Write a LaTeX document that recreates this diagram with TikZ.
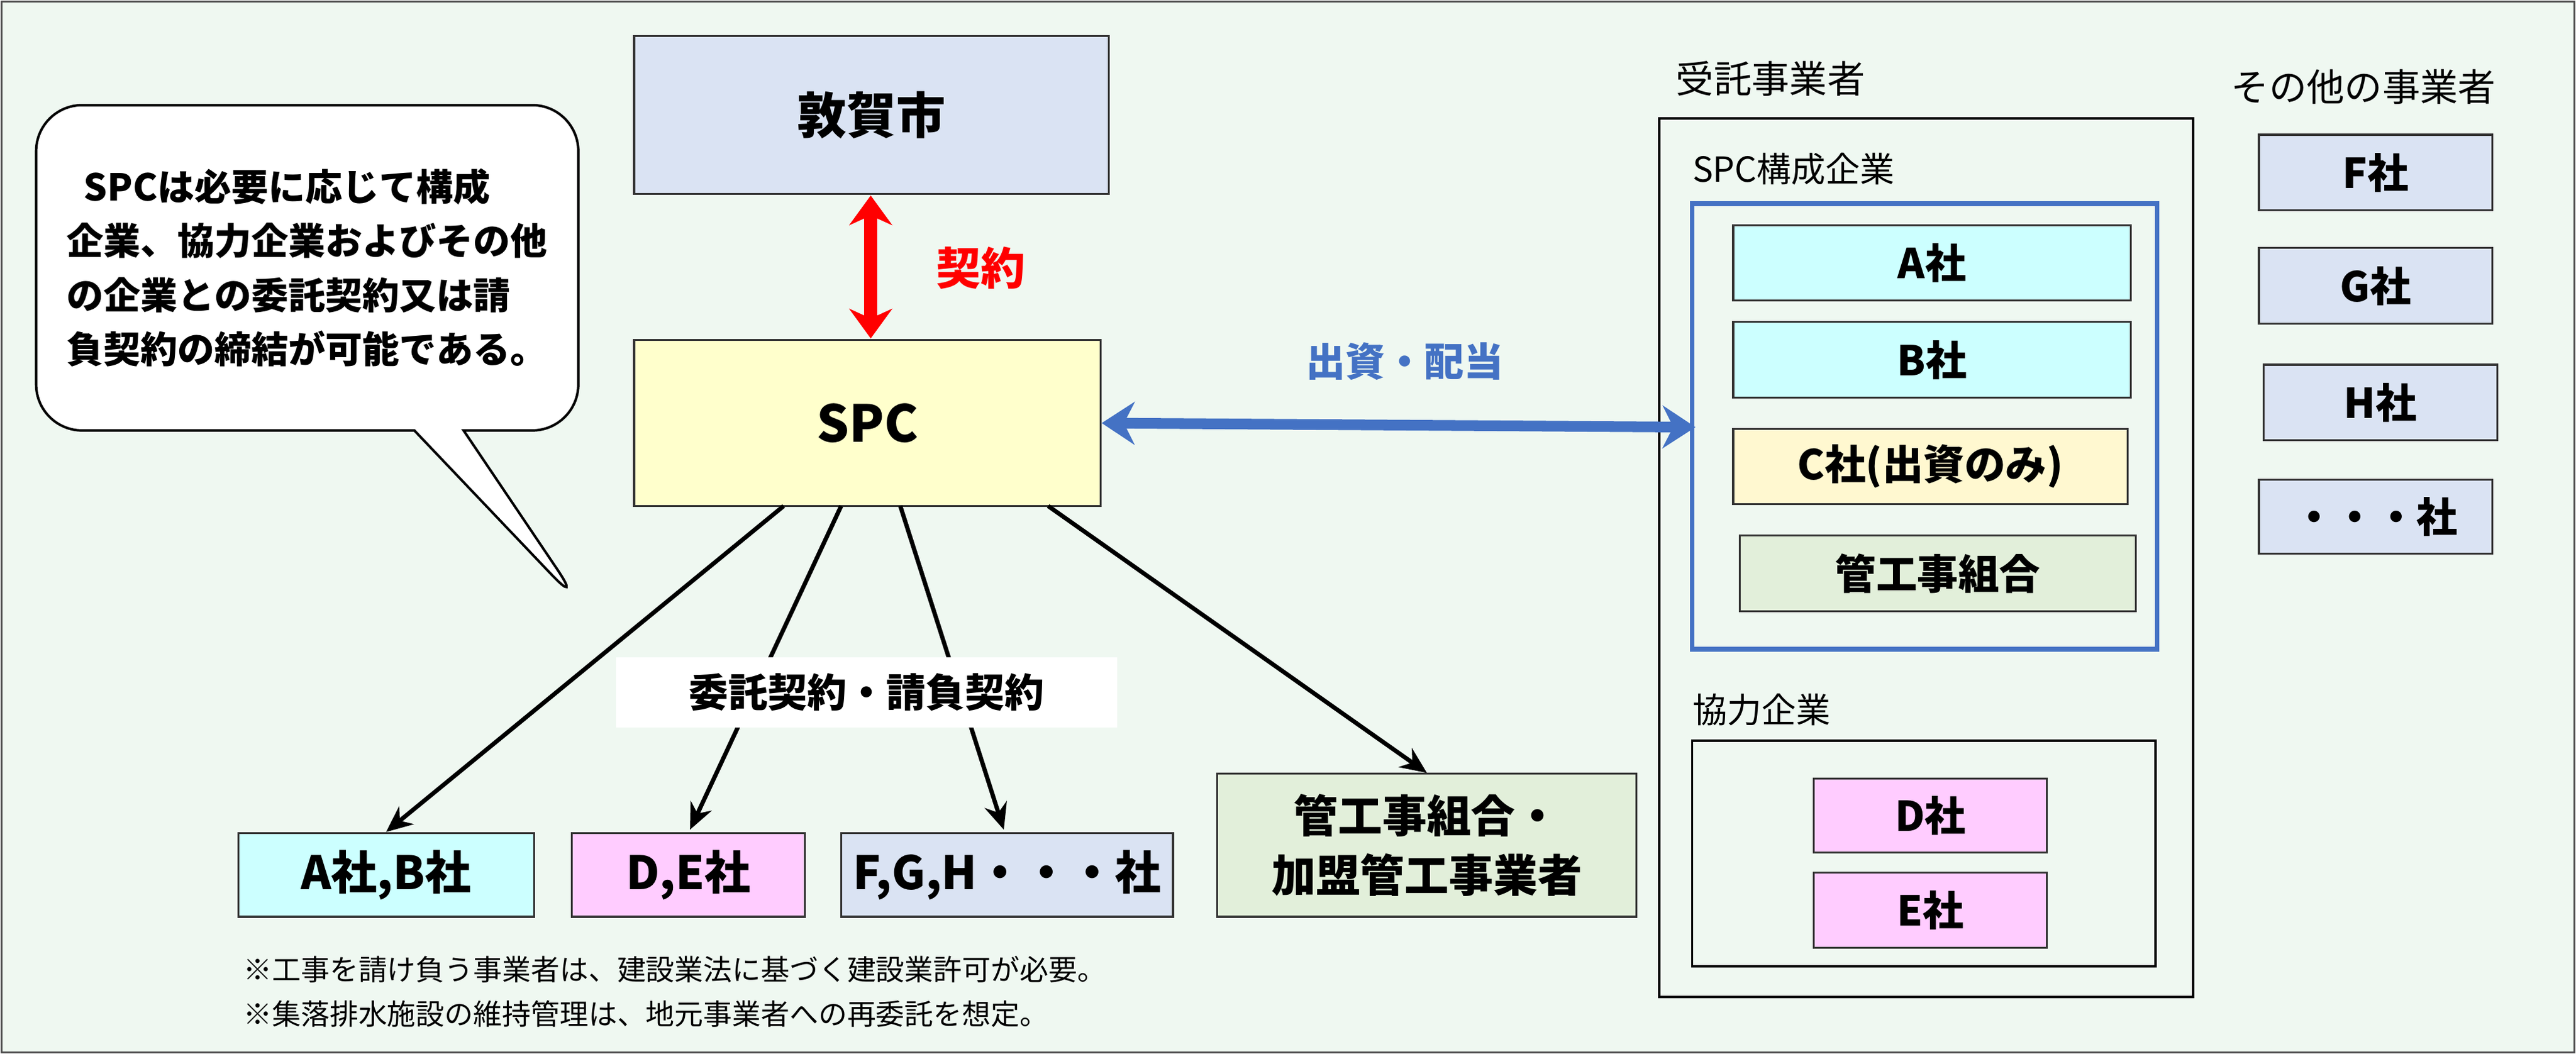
\documentclass[tikz,border=0pt]{standalone}
\usepackage{fontspec}
\setmainfont{Noto Sans CJK JP}
\newcommand\jpb{\bfseries}
\usetikzlibrary{arrows.meta,shapes.callouts}
\definecolor{bg}{HTML}{EFF8F1}
\definecolor{lav}{HTML}{DAE3F3}
\definecolor{ylw}{HTML}{FFFFCC}
\definecolor{cyn}{HTML}{CCFFFF}
\definecolor{grn}{HTML}{E2EFDA}
\definecolor{pnk}{HTML}{FFCCFF}
\definecolor{cyl}{HTML}{FFF8D0}
\definecolor{blu}{HTML}{4472C4}
\tikzset{
 bx/.style={draw=black!80,line width=1.2pt,align=center,font=\jpb\fontsize{28}{32}\selectfont,inner sep=0pt},
 sm/.style={bx,font=\jpb\fontsize{25}{28}\selectfont},
 lbl/.style={font=\fontsize{21}{25}\selectfont,anchor=west,inner sep=0pt},
 arr/.style={-{Stealth[length=16pt,width=14pt]},line width=2.6pt,black}
}
\begin{document}
\begin{tikzpicture}[x=1pt,y=-1pt]
\useasboundingbox (0,0) rectangle (1568,641.5);
\fill[bg,draw=black!70,line width=1pt] (1,1) rectangle (1567,640.5);
% callout
\node[draw=black,line width=1.5pt,fill=white,rectangle callout,rounded corners=28pt,minimum width=330pt,minimum height=198pt,callout absolute pointer={(355,370)},callout pointer width=30pt,align=left,font=\jpb\fontsize{22.5}{33}\selectfont] (call) at (187,163) {\ \ SPCは必要に応じて構成\\企業、協力企業およびその他\\の企業との委託契約又は請\\負契約の締結が可能である。};
\node[bx,fill=lav,minimum width=289pt,minimum height=96pt,font=\jpb\fontsize{30}{34}\selectfont] (city) at (530.5,70) {敦賀市};
\node[bx,fill=ylw,minimum width=284pt,minimum height=101pt,font=\jpb\fontsize{31}{34}\selectfont] (spc) at (528,257.5) {SPC};
\draw[{Stealth[length=18pt,width=26pt]}-{Stealth[length=18pt,width=26pt]},line width=8pt,red] (530,119) -- (530,206);
\node[font=\jpb\fontsize{27}{30}\selectfont,text=red] (kei) at (597,163) {契約};
% right
\node[lbl,font=\fontsize{23}{27}\selectfont] (jt) at (1020,48) {受託事業者};
\draw[line width=1.5pt] (1010,72) rectangle (1335,607);
\node[lbl] (spck) at (1030,103) {SPC構成企業};
\draw[blu,line width=3pt] (1030,124) rectangle (1313,395);
\node[sm,fill=cyn,minimum width=242pt,minimum height=46pt] (a) at (1176,160) {A社};
\node[sm,fill=cyn,minimum width=242pt,minimum height=46pt] (b) at (1176,219) {B社};
\node[sm,fill=cyl,minimum width=240pt,minimum height=46pt] (c) at (1175,284) {C社(出資のみ)};
\node[sm,fill=grn,minimum width=241pt,minimum height=46pt] (k) at (1179.5,349) {管工事組合};
\node[lbl] (kyo) at (1030,432) {協力企業};
\draw[line width=1.5pt] (1030,451) rectangle (1312,588);
\node[sm,fill=pnk,minimum width=142pt,minimum height=45pt] (d) at (1175,496.5) {D社};
\node[sm,fill=pnk,minimum width=142pt,minimum height=46pt] (e) at (1175,554) {E社};
\node[lbl,font=\fontsize{23}{27}\selectfont] (oth) at (1358,53) {その他の事業者};
\node[sm,fill=lav,minimum width=142pt,minimum height=46pt] (f) at (1446,105) {F社};
\node[sm,fill=lav,minimum width=142pt,minimum height=46pt] (g) at (1446,174) {G社};
\node[sm,fill=lav,minimum width=142pt,minimum height=46pt] (h) at (1449,245) {H社};
\node[sm,fill=lav,minimum width=142pt,minimum height=45pt] (x) at (1446,314.5) {・・・社};
\draw[{Stealth[length=20pt,width=26pt]}-{Stealth[length=20pt,width=26pt]},line width=6.5pt,blu] (spc.east) -- (1032,260);
\node[font=\jpb\fontsize{24}{27}\selectfont,text=blu] (hai) at (855,220) {出資・配当};
% bottom
\node[bx,fill=cyn,minimum width=180pt,minimum height=51pt] (ab) at (235,532.5) {A社,B社};
\node[bx,fill=pnk,minimum width=142pt,minimum height=51pt] (de) at (419,532.5) {D,E社};
\node[bx,fill=lav,minimum width=202pt,minimum height=51pt] (fg) at (613,532.5) {F,G,H・・・社};
\node[bx,fill=grn,minimum width=255pt,minimum height=87pt,font=\jpb\fontsize{27}{36}\selectfont] (kk) at (868.5,514.5) {管工事組合・\\加盟管工事業者};
\draw[arr] (477,308) -- (ab.north);
\draw[arr] (512,308) -- (420,505);
\draw[arr] (548,308) -- (611,505);
\draw[arr] (638,308) -- (kk.north);
\node[fill=white,minimum width=305pt,minimum height=43pt,font=\jpb\fontsize{24}{27}\selectfont,inner sep=0pt] (ik) at (527.5,421.5) {委託契約・請負契約};
\node[lbl,font=\fontsize{17.5}{20}\selectfont] (n1) at (148,590) {※工事を請け負う事業者は、建設業法に基づく建設業許可が必要。};
\node[lbl,font=\fontsize{17.5}{20}\selectfont] (n2) at (148,617) {※集落排水施設の維持管理は、地元事業者への再委託を想定。};
\end{tikzpicture}
\end{document}
